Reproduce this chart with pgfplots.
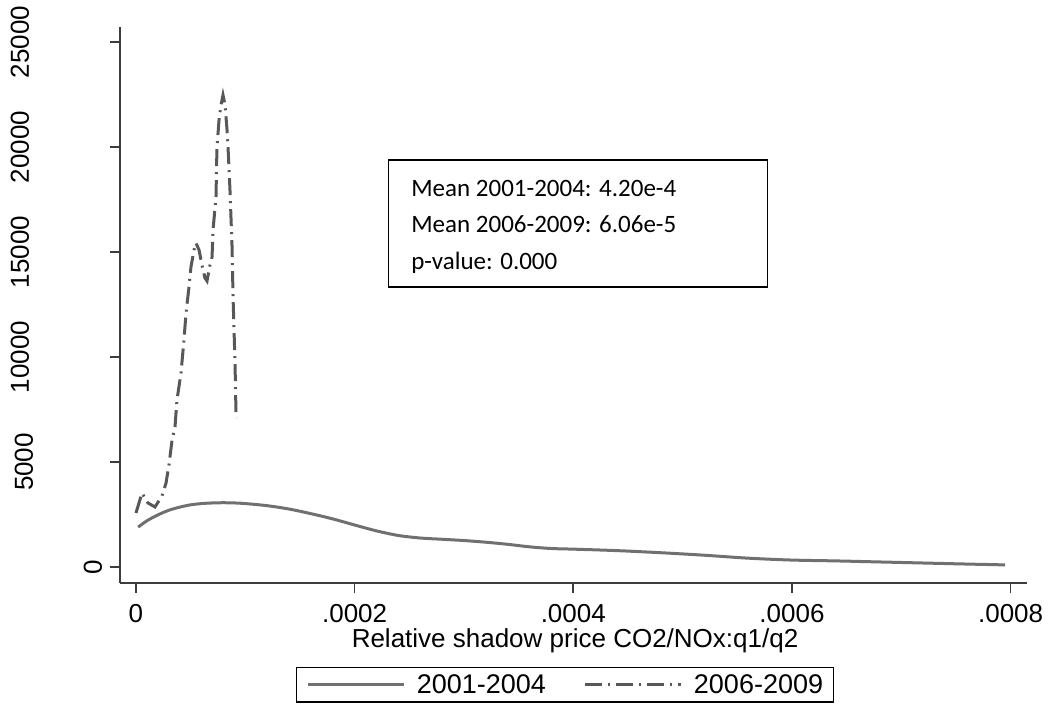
\documentclass[border=0pt]{standalone}
\usepackage{pgfplots}
\pgfplotsset{compat=1.18}
\usepackage{fontspec}
\setmainfont{Liberation Sans}
\newfontfamily\calib{Carlito}
\definecolor{axgray}{RGB}{60,60,60}
\definecolor{lineA}{RGB}{112,112,112}
\definecolor{lineB}{RGB}{88,88,88}

\begin{document}
\begin{tikzpicture}
\begin{axis}[
  at={(120pt,134pt)}, anchor=south west,
  scale only axis, width=907pt, height=556pt,
  xmin=-0.0000146, xmax=0.000815,
  ymin=-762, ymax=25714,
  axis x line*=bottom, axis y line*=left,
  axis line style={axgray, line width=1.6pt, -},
  tick style={axgray, line width=1.6pt},
  tick align=outside, major tick length=10pt,
  scaled ticks=false,
  xtick={0,0.0002,0.0004,0.0006,0.0008},
  xticklabels={0,.0002,.0004,.0006,.0008},
  ytick={0,5000,10000,15000,20000,25000},
  yticklabels={\raisebox{8pt}{0},\raisebox{77pt}{5000},\raisebox{81pt}{10000},\raisebox{81pt}{15000},\raisebox{81pt}{20000},\raisebox{81pt}{25000}},
  tick label style={font=\fontsize{26}{31}\selectfont},
  xticklabel style={yshift=-8pt},
  yticklabel style={rotate=90, anchor=south, inner sep=0pt},
  xlabel={Relative shadow price CO2/NOx:q1/q2},
  xlabel style={font=\fontsize{26}{31}\selectfont, at={(axis description cs:0.5017,-0.1169)}, anchor=base},
  clip=false,
  legend columns=2,
  legend style={at={(0.4906,-0.183)}, anchor=center, draw=black, line width=1.2pt,
    font=\fontsize{27}{32}\selectfont, inner xsep=10pt, inner ysep=7pt,
    nodes={inner sep=0pt},
    /tikz/every even column/.append style={column sep=38pt}},
  legend image code/.code={\draw[#1] (0pt,0pt) -- (96pt,0pt);},
]
% 2001-2004
\addplot[lineA, line width=3pt, smooth] coordinates {
(0.000002,1900) (0.00001,2200) (0.00002,2480) (0.00003,2700) (0.00004,2850)
(0.00005,2960) (0.00006,3020) (0.00007,3050) (0.00008,3060) (0.00009,3050)
(0.00010,3020) (0.00012,2920) (0.00014,2760) (0.00016,2540) (0.00018,2290)
(0.00020,2000) (0.00022,1720) (0.00024,1500) (0.00026,1380) (0.00028,1320)
(0.00030,1260) (0.00032,1180) (0.00034,1080) (0.00036,960) (0.00038,880)
(0.00040,850) (0.00044,780) (0.00048,680) (0.00052,560) (0.00056,420)
(0.00060,330) (0.00064,290) (0.00068,240) (0.00072,190) (0.00076,140)
(0.000795,100)};
% 2006-2009
\addplot[lineB, line width=3pt, dash pattern=on 17pt off 6pt on 2pt off 6pt] coordinates {
(0.0000000,2571) (0.0000055,3524) (0.0000110,3048) (0.0000174,2857)
(0.0000238,3381) (0.0000275,4000) (0.0000302,4857) (0.0000330,6048)
(0.0000357,6667) (0.0000375,7952) (0.0000412,9238) (0.0000439,10810)
(0.0000458,12095) (0.0000485,13333) (0.0000503,14286) (0.0000531,15095)
(0.0000549,15429) (0.0000577,15095) (0.0000604,14381) (0.0000631,13762)
(0.0000650,13619) (0.0000677,14381) (0.0000696,14762) (0.0000705,16048)
(0.0000732,17619) (0.0000741,20000) (0.0000760,21286) (0.0000778,22000)
(0.0000796,22476) (0.0000815,22000) (0.0000833,20810) (0.0000842,20000)
(0.0000860,17952) (0.0000879,15238) (0.0000888,12857) (0.0000906,9714)
(0.0000915,7333) (0.0000924,7095)};
\legend{\hspace{11pt}2001-2004, \hspace{11pt}2006-2009}
% annotation box
\draw[black, line width=1.2pt] (axis cs:0.0002307,19381) rectangle (axis cs:0.0005776,13333);
\node[anchor=base west, inner sep=0pt, font=\calib\fontsize{25}{30}\selectfont] at (axis cs:0.0002517,17619) {Mean 2001-2004: 4.20e-4};
\node[anchor=base west, inner sep=0pt, font=\calib\fontsize{25}{30}\selectfont] at (axis cs:0.0002517,15905) {Mean 2006-2009: 6.06e-5};
\node[anchor=base west, inner sep=0pt, font=\calib\fontsize{25}{30}\selectfont] at (axis cs:0.0002517,14190) {p-value: 0.000};
\end{axis}
\pgfresetboundingbox
\useasboundingbox (0,0) rectangle (1049pt,717pt);
\end{tikzpicture}
\end{document}
